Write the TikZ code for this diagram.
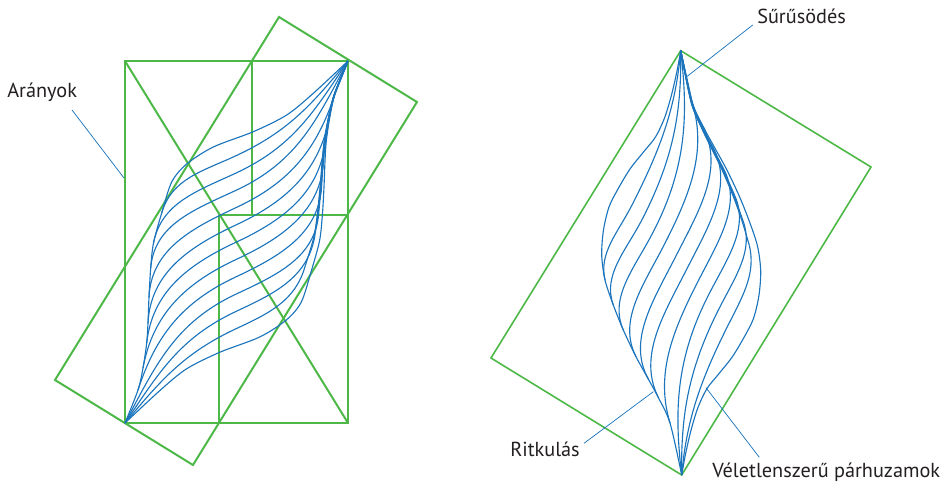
\documentclass[tikz,border=0pt]{standalone}
\usepackage{fontspec}
\setmainfont{PT Sans}
\definecolor{lgreen}{RGB}{77,184,72}
\definecolor{lblue}{RGB}{28,117,188}
\definecolor{ltext}{RGB}{35,31,32}
\begin{document}
\begin{tikzpicture}[x=0.75pt,y=-0.75pt]
\tikzset{
  grn/.style={draw=lgreen, line width=1.5pt, line join=miter},
  grnthin/.style={draw=lgreen, line width=1.2pt, line join=miter},
  fib/.style={draw=lblue, line width=0.85pt},
  lead/.style={draw=lblue, line width=0.55pt},
  lbl/.style={font=\fontsize{15.2}{17}\selectfont, text=ltext, inner sep=0pt}
}
\useasboundingbox (0,0) rectangle (947,482);

% ================= left figure =================
\coordinate (A) at (125,423);
\coordinate (B) at (348,61);
\coordinate (LC) at (236.5,242);
\draw[grn] (279,17) -- (417,102) -- (193,465) -- (55,380) -- cycle;
\draw[grn] (125,61) rectangle (348,423);
\draw[grn] (252,61) -- (252,215);
\draw[grn] (219,215) -- (348,215);
\draw[grn] (219,215) -- (219,423);
\draw[grn] (125,61) -- (348,423);

% boundary curves (point symmetric)
\def\leftbound{plot[smooth,tension=0.5] coordinates {(125,423) (138,390) (143,368) (146.7,343) (148,323) (149,297) (150.7,268) (153.5,243) (161.7,213) (171.7,182) (186.7,164) (213.3,147) (253.3,131.7) (286.7,115) (313.3,93.3) (348,61)}}
\draw[fib] \leftbound;
\draw[fib, rotate around={180:(LC)}] \leftbound;

\def\LPX{125,161.7,153.5,150.7,149,148,146.7,143,138,125,125,125,125}
\def\LPY{423,213,243,268,297,323,343,368,390,423,423,423,423}
\def\LAN{68.5,73.9,78.7,85.2,87.2,87.1,83.7,79.5,71.9,62,56,50,43}
\foreach \k in {1,...,11}{
  \pgfmathtruncatemacro\j{12-\k}
  \pgfmathsetmacro\sx{{\LPX}[\k]}
  \pgfmathsetmacro\sy{{\LPY}[\k]}
  \pgfmathsetmacro\sa{{\LAN}[\k]}
  \pgfmathsetmacro\ea{{\LAN}[\j]}
  \pgfmathsetmacro\f{1-0.012*(\k-3)}
  \pgfmathsetmacro\rx{473-{\LPX}[\j]}
  \pgfmathsetmacro\ry{484-{\LPY}[\j]}
  \pgfmathsetmacro\du{(\rx-236.5)*0.5245-(\ry-242)*0.8514}
  \pgfmathsetmacro\dn{(\rx-236.5)*0.8514+(\ry-242)*0.5245}
  \pgfmathsetmacro\ex{236.5+\du*0.5245+\f*\dn*0.8514}
  \pgfmathsetmacro\ey{242-\du*0.8514+\f*\dn*0.5245}
  \pgfmathsetmacro\mx{236.5}
  \pgfmathsetmacro\my{242+(\k-6)*17.3}
  \pgfmathsetmacro\ds{veclen(\mx-\sx,\my-\sy)}
  \pgfmathsetmacro\de{veclen(\ex-\mx,\ey-\my)}
  \draw[fib] (\sx,\sy)
    .. controls ({\sx+0.38*\ds*cos(\sa)},{\sy-0.38*\ds*sin(\sa)}) and ({\mx-0.4*\ds*cos(25)},{\my+0.4*\ds*sin(25)})
    .. (\mx,\my)
    .. controls ({\mx+0.4*\de*cos(25)},{\my-0.4*\de*sin(25)}) and ({\ex-0.38*\de*cos(\ea)},{\ey+0.38*\de*sin(\ea)})
    .. (\ex,\ey);
  \ifnum\k>3
    \gdef\pts{}
    \foreach \i in {\j,...,8}{
      \pgfmathsetmacro\qx{473-{\LPX}[\i]}
      \pgfmathsetmacro\qy{484-{\LPY}[\i]}
      \pgfmathsetmacro\qu{(\qx-236.5)*0.5245-(\qy-242)*0.8514}
      \pgfmathsetmacro\qn{(\qx-236.5)*0.8514+(\qy-242)*0.5245}
      \pgfmathsetmacro\tx{236.5+\qu*0.5245+\f*\qn*0.8514}
      \pgfmathsetmacro\ty{242-\qu*0.8514+\f*\qn*0.5245}
      \xdef\pts{\pts (\tx,\ty)}
    }
    \edef\contpath{\noexpand\draw[fib] plot[smooth,tension=0.5] coordinates {\pts (348,61)};}
    \contpath
  \fi
}

\node[lbl, anchor=base west] (aranyok) at (7,97) {Arányok};
\coordinate (aranyokS) at (72,110);
\coordinate (aranyokE) at (124,178);
\draw[lead] (aranyokS) -- (aranyokE);

% ================= right figure =================
\coordinate (O) at (681.7,475);
\coordinate (T) at (680.7,50.7);
\coordinate (RC) at (681.2,262.85);
\draw[grnthin] (T) -- (871,167) -- (O) -- (491,358) -- cycle;

\def\rightbound{plot[smooth,tension=0.5] coordinates {(681.7,475) (670,423) (658.3,397.5) (648.3,379) (636,356.7) (623.3,330) (613.3,305) (605,280) (601.7,255) (603.5,230) (609,207) (618,189) (630,169) (643.5,152) (655.5,137) (664.5,118) (671.5,95) (677,71) (680.7,50.7)}}
\draw[fib] \rightbound;
\draw[fib, rotate around={180:(RC)}] \rightbound;

\def\RPX{681.7,605,613.3,623.3,636,648.3,658.3,670,681.7,681.7,681.7,681.7}
\def\RPY{475,280,305,330,356.7,379,397.5,423,475,475,475,475}
\def\RAN{102.7,103.1,110.1,113.7,117,118.7,116.3,106.8,96.8,90.9,85,79.2}
\foreach \k in {1,...,10}{
  \pgfmathtruncatemacro\j{11-\k}
  \pgfmathsetmacro\sx{{\RPX}[\k]}
  \pgfmathsetmacro\sy{{\RPY}[\k]}
  \pgfmathsetmacro\sa{{\RAN}[\k]}
  \pgfmathsetmacro\ea{{\RAN}[\j]}
  \pgfmathsetmacro\f{1-0.015*(\k-3)}
  \pgfmathsetmacro\ex{681.2+\f*(1362.4-{\RPX}[\j]-681.2)}
  \pgfmathsetmacro\ey{525.7-{\RPY}[\j]}
  \pgfmathsetmacro\mx{681.2+(\k-5.5)*10.93}
  \pgfmathsetmacro\my{262.85+(\k-5.5)*12.86}
  \pgfmathsetmacro\ds{veclen(\mx-\sx,\my-\sy)}
  \pgfmathsetmacro\de{veclen(\ex-\mx,\ey-\my)}
  \draw[fib] (\sx,\sy)
    .. controls ({\sx+0.35*\ds*cos(\sa)},{\sy-0.35*\ds*sin(\sa)}) and ({\mx-0.4*\ds*cos(63)},{\my+0.4*\ds*sin(63)})
    .. (\mx,\my)
    .. controls ({\mx+0.4*\de*cos(63)},{\my-0.4*\de*sin(63)}) and ({\ex-0.35*\de*cos(\ea)},{\ey+0.35*\de*sin(\ea)})
    .. (\ex,\ey);
  \ifnum\k>3
    \gdef\pts{}
    \foreach \i in {\j,...,7}{
      \pgfmathsetmacro\tx{681.2+\f*(1362.4-{\RPX}[\i]-681.2)}
      \pgfmathsetmacro\ty{525.7-{\RPY}[\i]}
      \xdef\pts{\pts (\tx,\ty)}
    }
    \edef\contpath{\noexpand\draw[fib] plot[smooth,tension=0.5] coordinates {\pts (680.7,50.7)};}
    \contpath
  \fi
}

\node[lbl, anchor=base west] (suru) at (757,23) {Sűrűsödés};
\coordinate (suruS) at (752.7,25);
\coordinate (suruE) at (686.7,76.7);
\draw[lead] (suruS) -- (suruE);

\node[lbl, anchor=base west] (ritk) at (510,456) {Ritkulás};
\coordinate (ritkS) at (584,443.3);
\coordinate (ritkE) at (653.3,391.7);
\draw[lead] (ritkS) -- (ritkE);

\node[lbl, anchor=base west] (vel) at (712,477) {Véletlenszerű párhuzamok};
\coordinate (velS) at (759.3,457.3);
\coordinate (velE) at (706,387.7);
\draw[lead] (velS) -- (velE);
\end{tikzpicture}
\end{document}
